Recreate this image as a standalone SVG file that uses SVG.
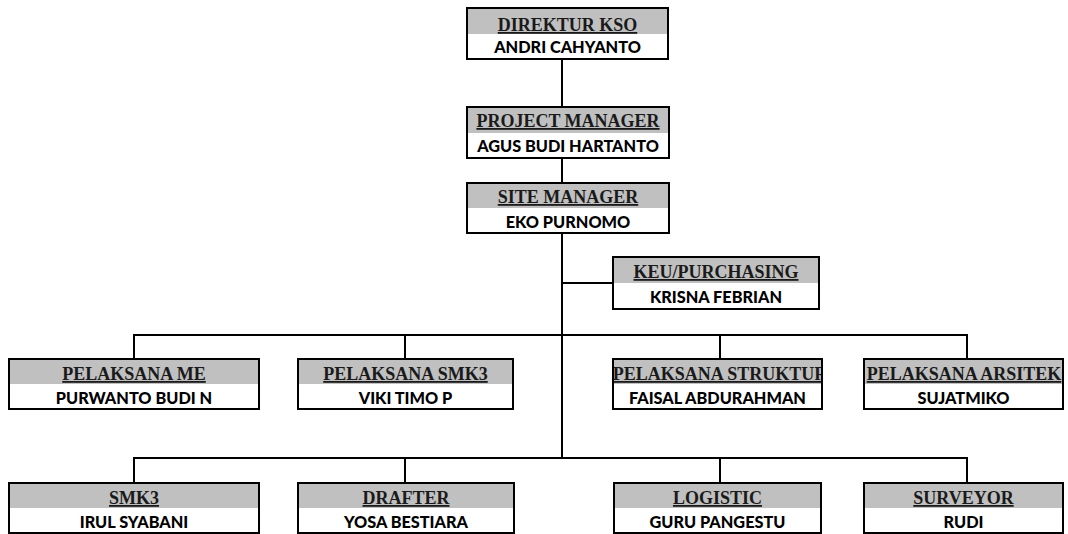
<svg xmlns="http://www.w3.org/2000/svg" width="1068" height="534" viewBox="0 0 1068 534">
<style>
.box{fill:#fff;stroke:#000;stroke-width:2}
.hd{fill:#c0c0c0}
.t{font-family:"Liberation Serif",serif;font-weight:bold;font-size:18px;text-anchor:middle;text-decoration:underline;fill:#1a1a1a}
.n{font-family:Lato,"Liberation Sans",sans-serif;font-weight:900;font-size:16.3px;text-anchor:middle;fill:#000}
.c{fill:none;stroke:#000;stroke-width:2}
</style>
<defs>
<clipPath id="cs"><rect x="614" y="360" width="207" height="24"/></clipPath>
<clipPath id="ca"><rect x="865" y="360" width="197" height="24"/></clipPath>
</defs>
<rect width="1068" height="534" fill="#fff"/>
<g id="connectors">
<path class="c" d="M562 59V107M562 158V183M562 233V458M562 283H613M134 359V335H967V359M134 483V458H967V483M405 335V359M720 335V359M405 458V483M720 458V483"/>
</g>
<g id="direktur"><rect class="box" x="467" y="8" width="201" height="51"/><rect class="hd" x="468" y="9" width="199" height="25"/><text class="t" x="567.5" y="31">DIREKTUR KSO</text><text class="n" x="567.5" y="53">ANDRI CAHYANTO</text></g>
<g id="pm"><rect class="box" x="467" y="107" width="202" height="51"/><rect class="hd" x="468" y="108" width="200" height="25"/><text class="t" x="568" y="127">PROJECT MANAGER</text><text class="n" x="568" y="152">AGUS BUDI HARTANTO</text></g>
<g id="sm"><rect class="box" x="467" y="183" width="202" height="50"/><rect class="hd" x="468" y="184" width="200" height="24"/><text class="t" x="568" y="203">SITE MANAGER</text><text class="n" x="568" y="228">EKO PURNOMO</text></g>
<g id="keu"><rect class="box" x="613" y="257" width="206" height="52"/><rect class="hd" x="614" y="258" width="204" height="25"/><text class="t" x="716" y="278">KEU/PURCHASING</text><text class="n" x="716" y="303">KRISNA FEBRIAN</text></g>
<g id="me"><rect class="box" x="9" y="359" width="250" height="50"/><rect class="hd" x="10" y="360" width="248" height="24"/><text class="t" x="134" y="380">PELAKSANA ME</text><text class="n" x="134" y="404">PURWANTO BUDI N</text></g>
<g id="psmk3"><rect class="box" x="298" y="359" width="215" height="50"/><rect class="hd" x="299" y="360" width="213" height="24"/><text class="t" x="405.5" y="380">PELAKSANA SMK3</text><text class="n" x="405.5" y="404">VIKI TIMO P</text></g>
<g id="struktur"><rect class="box" x="613" y="359" width="209" height="50"/><rect class="hd" x="614" y="360" width="207" height="24"/><text class="t" x="720" y="380" clip-path="url(#cs)">PELAKSANA STRUKTUR</text><text class="n" x="717.5" y="404">FAISAL ABDURAHMAN</text></g>
<g id="arsitek"><rect class="box" x="864" y="359" width="199" height="50"/><rect class="hd" x="865" y="360" width="197" height="24"/><text class="t" x="964" y="380" clip-path="url(#ca)">PELAKSANA ARSITEK</text><text class="n" x="963.5" y="404">SUJATMIKO</text></g>
<g id="smk3"><rect class="box" x="9" y="483" width="250" height="50"/><rect class="hd" x="10" y="484" width="248" height="24"/><text class="t" x="134" y="504">SMK3</text><text class="n" x="134" y="528">IRUL SYABANI</text></g>
<g id="drafter"><rect class="box" x="298" y="483" width="216" height="50"/><rect class="hd" x="299" y="484" width="214" height="24"/><text class="t" x="406" y="504">DRAFTER</text><text class="n" x="406" y="528">YOSA BESTIARA</text></g>
<g id="logistic"><rect class="box" x="614" y="483" width="207" height="50"/><rect class="hd" x="615" y="484" width="205" height="24"/><text class="t" x="717.5" y="504">LOGISTIC</text><text class="n" x="717.5" y="528">GURU PANGESTU</text></g>
<g id="surveyor"><rect class="box" x="864" y="483" width="199" height="50"/><rect class="hd" x="865" y="484" width="197" height="24"/><text class="t" x="963.5" y="504">SURVEYOR</text><text class="n" x="963.5" y="528">RUDI</text></g>
</svg>
